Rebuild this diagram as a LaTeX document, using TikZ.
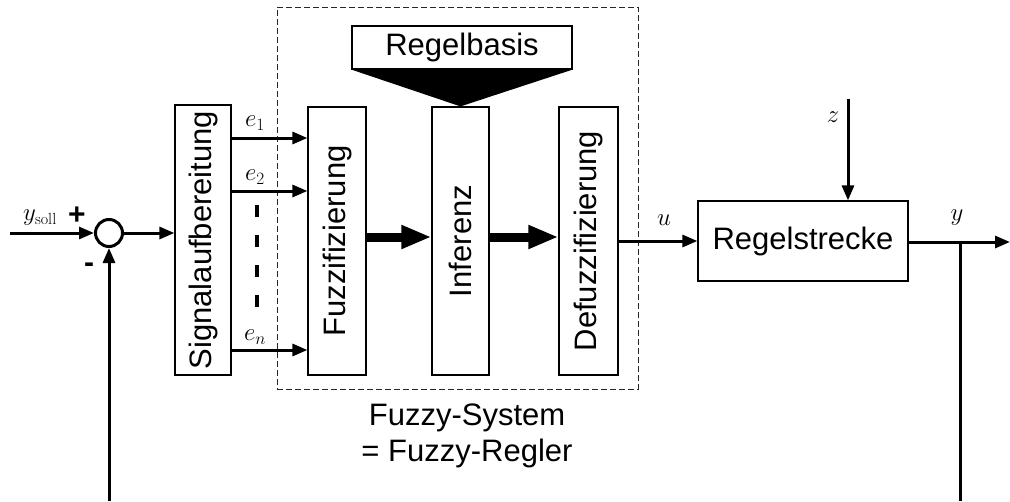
\documentclass[tikz,border=0pt]{standalone}
\usepackage{fontspec}
\newfontfamily\arial{Liberation Sans}
\usetikzlibrary{arrows.meta}
\begin{document}
\begin{tikzpicture}[x=1pt,y=-1pt,
  box/.style={draw,line width=1.2pt,inner sep=0pt},
  txt/.style={font=\arial\fontsize{31}{36}\selectfont,inner sep=0pt},
  sig/.style={line width=3pt,-{Triangle[length=15pt,width=12pt]}},
  big/.style={line width=9pt,-{Triangle[length=30pt,width=22pt]}},
  lab/.style={font=\fontsize{23}{26}\selectfont,inner sep=0pt},
  sgn/.style={font=\arial\bfseries\fontsize{30}{30}\selectfont,inner sep=0pt}]
\useasboundingbox (0,0) rectangle (1010,501);
% dashed fuzzy system frame
\node[draw,black!85,line width=1pt,dash pattern=on 6pt off 3pt,minimum width=361pt,minimum height=382pt,inner sep=0pt] (fs) at (457.5,198) {};
% blocks
\node[box,minimum width=56pt,minimum height=270pt] (sa) at (203,240) {};
\node[txt,rotate=90] at (sa) {Signalaufbereitung};
\node[box,minimum width=58pt,minimum height=268pt] (fz) at (337,241) {};
\node[txt,rotate=90] at (fz) {Fuzzifizierung};
\node[box,minimum width=57pt,minimum height=268pt] (inf) at (460.5,241) {};
\node[txt,rotate=90] at (inf) {Inferenz};
\node[box,minimum width=59pt,minimum height=268pt] (dz) at (588.5,241) {};
\node[txt,rotate=90] at (dz) {Defuzzifizierung};
\node[box,minimum width=210pt,minimum height=80pt,txt] (rs) at (803,241) {Regelstrecke};
\node[box,minimum width=220pt,minimum height=43pt,txt] (rb) at (462,47.5) {Regelbasis};
\fill (rb.south west) -- (rb.south east) -- (inf.north) -- cycle;
% summing junction
\node[draw,circle,line width=3pt,minimum size=27pt,inner sep=0pt] (sum) at (109,233) {};
% coordinates
\coordinate (in) at (10,233);
\coordinate (fbl) at (109,501);
\coordinate (r1) at (0,138);
\coordinate (r2) at (0,191);
\coordinate (rn) at (0,350);
\coordinate (rb1) at (0,237);
\coordinate (zin) at (848,99);
\coordinate (out) at (1010,242);
\coordinate (br) at (960,242);
\coordinate (fbr) at (960,501);
\coordinate (d1) at (257,205);
\coordinate (d2) at (257,308);
% connectors
\draw[sig] (in) -- (sum.west);
\draw[sig] (sum.east) -- (sa.west |- sum.east);
\draw[sig] (fbl) -- (sum.south);
\draw[sig] (sa.east |- r1) -- (fz.west |- r1);
\draw[sig] (sa.east |- r2) -- (fz.west |- r2);
\draw[sig] (sa.east |- rn) -- (fz.west |- rn);
\draw[line width=3.5pt,dash pattern=on 12pt off 18pt] (d1) -- (d2);
\draw[big] (fz.east |- rb1) -- (inf.west |- rb1);
\draw[big] (inf.east |- rb1) -- (dz.west |- rb1);
\draw[sig] (dz.east |- rs.west) -- (rs.west);
\draw[sig] (zin) -- (rs.north -| zin);
\draw[sig] (rs.east |- out) -- (out);
\draw[line width=3pt] (br) -- (fbr);
% labels
\node[lab] (lys) at (40,218) {$y_{\mathrm{soll}}$};
\node[sgn] (lp) at (77,216) {+};
\node[sgn] (lm) at (89,268) {-};
\node[lab] (le1) at (255,123) {$e_1$};
\node[lab] (le2) at (255,177) {$e_2$};
\node[lab] (len) at (255,337) {$e_n$};
\node[lab] (lu) at (664,220) {$u$};
\node[lab] (lz) at (833,117) {$z$};
\node[lab] (ly) at (957,218) {$y$};
\node[txt,align=center] (fsl) at (467,436) {Fuzzy-System\\= Fuzzy-Regler};
\end{tikzpicture}
\end{document}
